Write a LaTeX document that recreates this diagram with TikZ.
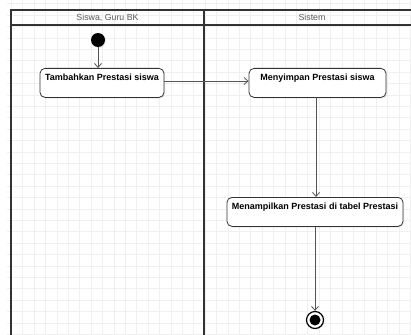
\documentclass[tikz,border=0pt]{standalone}
\usepackage{fontspec}
\setmainfont{Liberation Sans}
\usetikzlibrary{arrows.meta,shadows}
\definecolor{gridgray}{HTML}{F0F0F0}
\definecolor{framegray}{HTML}{333333}
\definecolor{edgegray}{HTML}{555555}
\definecolor{headtext}{HTML}{5A5A5A}
\begin{document}
\begin{tikzpicture}[x=1pt,y=-1pt,
  gridline/.style={draw=gridgray,line width=0.8pt},
  laneframe/.style={draw=framegray,line width=1.6pt},
  lanehead/.style={font=\fontsize{8.8}{10}\selectfont,text=headtext},
  action/.style={draw=framegray,line width=0.8pt,rounded corners=5pt,fill=white,
    inner sep=0pt,text height=12pt,text depth=17pt,
    font=\bfseries\fontsize{9}{10}\selectfont,
    drop shadow={opacity=0.15,shadow xshift=1.2pt,shadow yshift=-1.2pt}},
  flow/.style={draw=edgegray,line width=0.8pt,-{Straight Barb[length=4pt,width=7pt]}},
  startdot/.style={circle,fill=black,minimum size=14pt,inner sep=0pt,
    drop shadow={opacity=0.15,shadow xshift=1.2pt,shadow yshift=-1.2pt}},
  endring/.style={circle,draw=black,line width=1.2pt,fill=white,minimum size=17pt,inner sep=0pt,
    drop shadow={opacity=0.15,shadow xshift=1.2pt,shadow yshift=-1.2pt}},
  enddot/.style={circle,fill=black,minimum size=11pt,inner sep=0pt}]
\useasboundingbox (0,0) rectangle (411,334);
\clip (0,0) rectangle (411,334);
\fill[white] (0,0) rectangle (411,334);
% background grid
\foreach \i in {0,...,35} {
  \pgfmathsetmacro{\gx}{11.3+11.4*\i}
  \draw[gridline] (\gx,0) -- (\gx,334);
}
\foreach \j in {0,...,29} {
  \pgfmathsetmacro{\gy}{3.8+11.4*\j}
  \draw[gridline] (7,\gy) -- (411,\gy);
}
% swimlanes
\draw[laneframe] (11,345) -- (11,10) -- (425,10);
\draw[laneframe] (11,25) -- (425,25);
\draw[laneframe] (204,10) -- (204,345);
\node[lanehead] (laneA) at (107.5,17.5) {Siswa, Guru BK};
\node[lanehead] (laneB) at (312,17.5) {Sistem};
% activity nodes
\node[startdot] (start) at (98,40) {};
\node[action,minimum width=124pt,anchor=north] (tambah) at (102,68) {Tambahkan Prestasi siswa};
\node[action,minimum width=137pt,anchor=north] (simpan) at (317.5,68) {Menyimpan Prestasi siswa};
\node[action,minimum width=176pt,anchor=north] (tampil) at (315,197) {Menampilkan Prestasi di tabel Prestasi};
\node[endring] (finish) at (315,320) {};
\node[enddot] (finishdot) at (finish.center) {};
% control flow
\draw[flow] (start) -- (start |- tambah.north);
\draw[flow] (tambah.east |- 0,81) -- (simpan.west |- 0,81);
\draw[flow] (316,97) -- (316,197);
\draw[flow] (tampil.south) -- (finish.north);
\end{tikzpicture}
\end{document}
